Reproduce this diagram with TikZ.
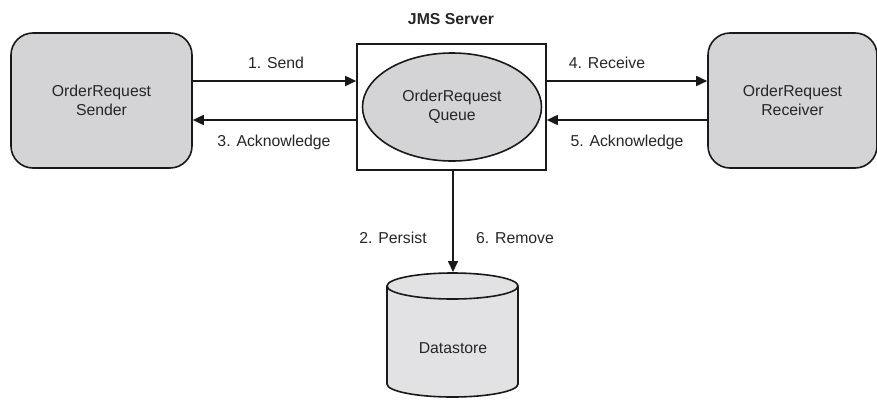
\documentclass[tikz,border=0pt]{standalone}
\usepackage{fontspec}
\setmainfont{Liberation Sans}
\usetikzlibrary{arrows.meta,shapes.geometric}
\definecolor{boxgray}{RGB}{212,212,214}
\definecolor{dbgray}{RGB}{226,226,228}
\begin{document}
\begin{tikzpicture}[x=1pt,y=-1pt,
  every node/.style={font=\fontsize{15.8}{18.8}\selectfont, text=black!85},
  line/.style={line width=1.6pt, black!90},
  flow/.style={line, -{Triangle[length=11pt,width=10pt]}},
  client/.style={draw=black!90, line width=1.6pt, fill=boxgray, rounded corners=22pt,
    minimum height=135pt, align=center}]
\useasboundingbox (0,0) rectangle (877,399);

% clients
\node[client, minimum width=181pt] (sender) at (101.5,100.5) {OrderRequest\\Sender};
\node[client, minimum width=169pt] (receiver) at (792.5,100.5) {OrderRequest\\Receiver};

% server box with queue inside
\node[draw=black!90, line width=1.6pt, fill=white, minimum width=189pt, minimum height=126pt] (server) at (451.5,107) {};
\node[font=\bfseries\fontsize{15.8}{18.8}\selectfont] (title) at (451,19) {JMS Server};
\node[ellipse, draw=black!90, line width=1.6pt, fill=boxgray, minimum width=179pt, minimum height=108pt, inner sep=0pt, align=center] (queue) at (452,107) {OrderRequest\\Queue};

% datastore cylinder
\fill[dbgray] (387,286) -- (387,384) arc[start angle=180,end angle=0,x radius=65.5,y radius=13] -- (518,286) arc[start angle=0,end angle=-180,x radius=65.5,y radius=13];
\draw[line] (387,286) -- (387,384) arc[start angle=180,end angle=0,x radius=65.5,y radius=13] -- (518,286);
\draw[line] (452.5,286) ellipse[x radius=65.5,y radius=13];
\node (ds) at (453,348) {Datastore};
\coordinate (dbin) at (453,272);

% message flows
\draw[flow] (sender.east |- 0,81) -- (server.west |- 0,81);
\draw[flow] (server.west |- 0,120) -- (sender.east |- 0,120);
\draw[flow] (server.east |- 0,81) -- (receiver.west |- 0,81);
\draw[flow] (receiver.west |- 0,120) -- (server.east |- 0,120);
\draw[flow] (server.south -| dbin) -- (dbin);

% step labels
\node (l1) at (276,63) {1. Send};
\node (l3) at (274,142) {3. Acknowledge};
\node (l4) at (607,63) {4. Receive};
\node (l5) at (627,142) {5. Acknowledge};
\node (l2) at (393,238) {2. Persist};
\node (l6) at (515,238) {6. Remove};
\end{tikzpicture}
\end{document}
